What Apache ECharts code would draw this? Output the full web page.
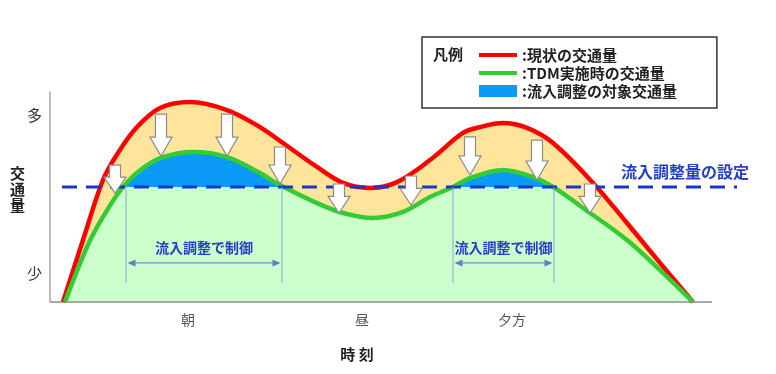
<!DOCTYPE html>
<html><head><meta charset="utf-8">
<script src="https://cdn.jsdelivr.net/npm/echarts@6/dist/echarts.min.js"></script>
<style>html,body{margin:0;padding:0;background:#fff}#c{width:776px;height:374px}</style>
</head><body><div id="c"></div>
<script>
// x: time of day (arbitrary units), y: traffic volume (0-100, relative)
const currentX = [1.3, 3.3, 5.3, 6.8, 8.7, 11, 14, 17.7, 21, 23.3, 26.7, 29.3, 32, 34.7, 38, 41.3, 43, 45.3, 47.7, 50.3, 54.3, 57.7, 61, 64.3];
const currentY = [0, 29.5, 58.1, 71, 83.3, 92.4, 95.2, 91.4, 83.3, 75.7, 64.3, 56.7, 54.3, 57.1, 67.6, 80.5, 83.3, 85.2, 82.9, 75.7, 56.7, 37.6, 18.6, 0];
const tdmX = [1.5, 3.7, 5.3, 7.3, 9.3, 11.3, 14.3, 17.7, 21, 23, 26.7, 29.3, 32.3, 35.3, 38, 40.3, 42, 45.3, 48.3, 50.3, 54, 57.7, 61, 64.3];
const tdmY = [0, 26.2, 40.5, 54.8, 63.8, 69, 71.4, 69, 61.4, 55.7, 47.1, 42.4, 40, 42.9, 50, 54.8, 59, 62.9, 59.5, 54.8, 42.4, 29.5, 15.2, 0];
const thresholdY = 54.8;
const thresholdSpan = [1.2, 68.7];
const baselineSpan = [0, 66.2];
const thresholdText = '流入調整量の設定';
const thresholdTextPos = [63.5, 61.9];
const arrowX = [6.5, 11.1, 17.7, 23, 28.9, 36.1, 42, 48.7, 54];
const arrowTop = [65.2, 89.5, 89.5, 73.8, 56.2, 60, 78.6, 77.1, 56.2];
const arrowTip = [51.9, 69.5, 69.5, 56.2, 42.4, 46.2, 60.5, 58.1, 42.4];
const controlSpans = [[7.6, 23.2], [40.3, 50.4]];
const controlLineBottom = 9;
const controlArrowY = 18.6;
const controlTextY = 25.7;
const controlText = '流入調整で制御';
const timeTickValues = [13.8, 31.2, 46.2];
const timeTickLabels = ['朝', '昼', '夕方'];
const volumeTickValues = [13.8, 89];
const volumeTickLabels = ['少', '多'];
const seriesNames = ['現状の交通量', 'TDM実施時の交通量', '流入調整の対象交通量'];
const legendTitle = '凡例';
const xAxisName = '時 刻';
const yAxisName = '交\n通\n量\n';

const FONT = '"Noto Sans CJK JP", "Noto Sans", sans-serif';
const BLUE = '#0B9AF6', LIGHTGREEN = '#CCFFCC';
const zip = (xs, ys) => xs.map((x, i) => [x, ys[i]]);
const nearestLabel = (vals, labels, v) => {
  let bi = 0;
  vals.forEach((t, i) => { if (Math.abs(t - v) < Math.abs(vals[bi] - v)) bi = i; });
  return labels[bi];
};

const chart = echarts.init(document.getElementById('c'));
chart.setOption({
  animation: false,
  grid: { left: 50, right: 36, top: 92, bottom: 72 },
  xAxis: {
    type: 'value', min: 0, max: 69,
    axisLine: { show: false },
    axisTick: { show: false }, splitLine: { show: false },
    axisLabel: {
      customValues: timeTickValues, margin: 11, fontSize: 14, color: '#555', fontFamily: FONT,
      formatter: v => nearestLabel(timeTickValues, timeTickLabels, v)
    },
    name: xAxisName, nameLocation: 'middle', nameGap: 45,
    nameTextStyle: { fontSize: 15, fontWeight: 'bold', color: '#222', fontFamily: FONT, padding: [0, 76, 0, 0] }
  },
  yAxis: {
    type: 'value', min: 0, max: 100,
    axisLine: { show: true, lineStyle: { color: '#A8A8A8', width: 1.5 } },
    axisTick: { show: false }, splitLine: { show: false },
    axisLabel: {
      customValues: volumeTickValues, margin: 8, fontSize: 15, color: '#333', fontFamily: FONT,
      formatter: v => nearestLabel(volumeTickValues, volumeTickLabels, v)
    },
    name: yAxisName, nameLocation: 'middle', nameRotate: 0, nameGap: 25, nameMoveOverlap: false,
    nameTextStyle: { fontSize: 15, fontWeight: 'bold', color: '#222', lineHeight: 16, fontFamily: FONT }
  },
  legend: {
    data: [
      { name: seriesNames[0], itemStyle: { opacity: 0 } },
      { name: seriesNames[1], itemStyle: { opacity: 0 } },
      { name: seriesNames[2], icon: 'rect', itemStyle: { color: BLUE, opacity: 1 } }
    ],
    orient: 'vertical', left: 422, top: 37, padding: [10, 40, 9, 55],
    itemWidth: 38, itemHeight: 12, itemGap: 2,
    borderColor: '#333', borderWidth: 1.5, selectedMode: false,
    formatter: n => ':' + n,
    lineStyle: { width: 4 },
    textStyle: { fontSize: 15, fontWeight: 'bold', color: '#222', lineHeight: 16, fontFamily: FONT }
  },
  graphic: [{
    type: 'text', left: 433, top: 47,
    style: { text: legendTitle, font: 'bold 15px ' + FONT, fill: '#222' }
  }],
  series: [
    { // orange band under the current curve
      type: 'line', name: 'band', data: zip(currentX, currentY), smooth: 0.35, symbol: 'none', silent: true,
      lineStyle: { width: 0, opacity: 0 }, areaStyle: { color: '#FFE49C', opacity: 1 }, z: 1
    },
    { // area under TDM curve, blue above threshold
      type: 'line', name: seriesNames[2], data: zip(tdmX, tdmY), smooth: 0.35, symbol: 'none', silent: true,
      color: BLUE, lineStyle: { width: 0, opacity: 0 }, areaStyle: { color: LIGHTGREEN, opacity: 1 }, z: 2
    },
    { // x axis base line
      type: 'line', name: 'baseline', data: baselineSpan.map(x => [x, 0]), symbol: 'none', silent: true, clip: false,
      lineStyle: { color: '#A8A8A8', width: 2 }, z: 3
    },
    {
      type: 'line', name: seriesNames[0], data: zip(currentX, currentY), smooth: 0.35, symbol: 'none', silent: true,
      color: '#FF0000', lineStyle: { color: '#FF0000', width: 4.5 }, z: 3
    },
    {
      type: 'line', name: seriesNames[1], data: zip(tdmX, tdmY), smooth: 0.35, symbol: 'none', silent: true,
      color: '#33CC33', lineStyle: { color: '#33CC33', width: 4.5 }, z: 4
    },
    {
      type: 'line', name: 'threshold', data: thresholdSpan.map(x => [x, thresholdY]), symbol: 'none', silent: true, clip: false,
      lineStyle: { color: '#1A35D0', width: 3, type: [15, 9] }, z: 5
    },
    {
      type: 'custom', name: 'arrows', silent: true, z: 6, clip: false,
      data: arrowX.map((x, i) => [x, arrowTop[i], arrowTip[i]]),
      encode: { x: 0, y: [1, 2] },
      renderItem: (params, api) => {
        const top = api.coord([api.value(0), api.value(1)]);
        const tip = api.coord([api.value(0), api.value(2)]);
        const len = tip[1] - top[1];
        const h = Math.min(19, len * 0.57);
        const sw = 5.5, hw = 11, cx = top[0];
        return {
          type: 'polygon',
          shape: { points: [[cx - sw, top[1]], [cx + sw, top[1]], [cx + sw, tip[1] - h], [cx + hw, tip[1] - h], [cx, tip[1]], [cx - hw, tip[1] - h], [cx - sw, tip[1] - h]] },
          style: { fill: '#FFFFFF', stroke: '#8A8A8A', lineWidth: 1.2 }
        };
      }
    },
    {
      type: 'custom', name: 'control', silent: true, z: 6, clip: false,
      data: controlSpans.map(s => [s[0], s[1], thresholdY]),
      encode: { x: [0, 1], y: 2 },
      renderItem: (params, api) => {
        const x1 = api.value(0), x2 = api.value(1);
        const a = api.coord([x1, thresholdY]), b = api.coord([x1, controlLineBottom]);
        const c = api.coord([x2, thresholdY]), d = api.coord([x2, controlLineBottom]);
        const ay = api.coord([x1, controlArrowY])[1];
        const ty = api.coord([x1, controlTextY])[1];
        const L = a[0] + 1.5, R = c[0] - 1.5, ah = 8, aw = 3.5;
        const lineStyle = { stroke: '#8CA5D6', lineWidth: 1 };
        return {
          type: 'group',
          children: [
            { type: 'line', shape: { x1: a[0], y1: a[1], x2: b[0], y2: b[1] }, style: lineStyle },
            { type: 'line', shape: { x1: c[0], y1: c[1], x2: d[0], y2: d[1] }, style: lineStyle },
            { type: 'line', shape: { x1: L + ah, y1: ay, x2: R - ah, y2: ay }, style: { stroke: '#6F8FC8', lineWidth: 1.2 } },
            { type: 'polygon', shape: { points: [[L, ay], [L + ah, ay - aw], [L + ah, ay + aw]] }, style: { fill: '#5F80C0' } },
            { type: 'polygon', shape: { points: [[R, ay], [R - ah, ay - aw], [R - ah, ay + aw]] }, style: { fill: '#5F80C0' } },
            { type: 'text', x: (a[0] + c[0]) / 2, y: ty,
              style: { text: controlText, fill: '#2540C8', font: 'bold 14px ' + FONT, align: 'center', verticalAlign: 'middle' } }
          ]
        };
      }
    },
    {
      type: 'custom', name: 'thresholdLabel', silent: true, z: 6, clip: false,
      data: [thresholdTextPos],
      encode: { x: 0, y: 1 },
      renderItem: (params, api) => {
        const p = api.coord([api.value(0), api.value(1)]);
        return { type: 'text', x: p[0], y: p[1],
          style: { text: thresholdText, fill: '#2540C8', font: 'bold 16px ' + FONT, align: 'center', verticalAlign: 'middle' } };
      }
    }
  ]
});

// Colour the TDM area blue above the threshold level (pixel position taken from the y axis scale)
const H = chart.getHeight();
const tPix = chart.convertToPixel({ xAxisIndex: 0, yAxisIndex: 0 }, [0, thresholdY])[1];
const f = Math.max(0, Math.min(1, tPix / H));
chart.setOption({
  series: [{}, {
    areaStyle: {
      color: {
        type: 'linear', x: 0, y: 0, x2: 0, y2: H, global: true,
        colorStops: [
          { offset: 0, color: BLUE }, { offset: f, color: BLUE },
          { offset: f, color: LIGHTGREEN }, { offset: 1, color: LIGHTGREEN }
        ]
      }
    }
  }]
});
</script>
</body></html>
